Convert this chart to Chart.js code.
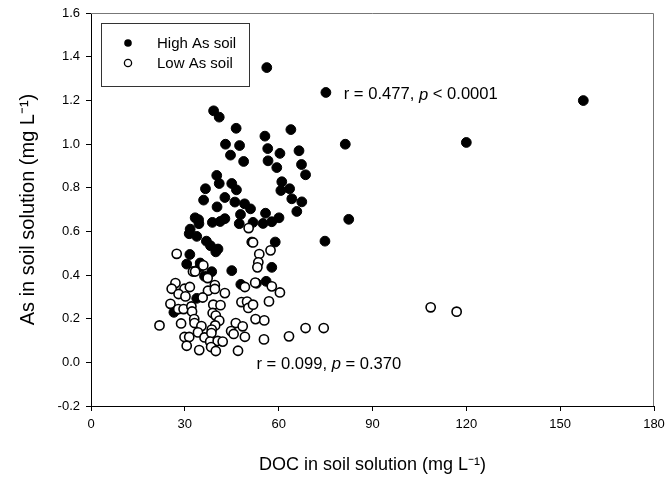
<!DOCTYPE html>
<html>
<head>
<meta charset="utf-8">
<script src="https://cdn.jsdelivr.net/npm/chart.js@4"></script>
<style>
  html, body { margin: 0; padding: 0; background: #fff; }
  #wrap { width: 666px; height: 482px; }
</style>
</head>
<body>
<div id="wrap"><canvas id="scatter"></canvas></div>
<script>
// High As soil (filled circles): DOC (mg/L) and As (mg/L)
const highX = [56.2, 75.1, 157.4, 39.2, 41.0, 46.4, 63.9, 55.6, 43.0, 47.5, 81.3, 120.0, 56.5, 66.5, 60.4,
  44.6, 56.6, 48.8, 59.4, 67.3, 68.6, 40.2, 41.0, 45.0, 61.0, 46.5, 36.6, 60.7, 63.5, 42.8, 64.2, 36.0,
  67.4, 46.0, 49.1, 51.0, 40.3, 55.8, 65.8, 33.3, 34.4, 38.8, 41.3, 42.8, 47.8, 47.4, 51.8, 55.0, 57.8,
  60.1, 82.4, 31.7, 31.4, 34.5, 33.8, 36.9, 38.2, 40.6, 39.9, 51.4, 58.9, 74.8, 31.6, 30.6, 34.9, 34.8,
  38.6, 45.0, 57.8, 47.9, 56.0, 52.9, 33.8, 26.5, 36.3];
const highY = [1.350, 1.236, 1.199, 1.152, 1.123, 1.072, 1.066, 1.036, 0.999, 0.993, 0.999, 1.007, 0.979, 0.969, 0.957,
  0.949, 0.923, 0.920, 0.892, 0.906, 0.859, 0.856, 0.819, 0.819, 0.827, 0.790, 0.795, 0.787, 0.795, 0.755, 0.749, 0.743,
  0.735, 0.734, 0.726, 0.703, 0.712, 0.683, 0.691, 0.662, 0.653, 0.641, 0.645, 0.658, 0.677, 0.635, 0.641, 0.636, 0.644,
  0.662, 0.655, 0.610, 0.589, 0.635, 0.577, 0.555, 0.534, 0.519, 0.506, 0.551, 0.551, 0.555, 0.494, 0.450, 0.455, 0.435,
  0.415, 0.420, 0.435, 0.357, 0.371, 0.362, 0.293, 0.229, 0.394];

// Low As soil (open circles)
const lowX = [50.4, 27.4, 51.8, 53.8, 57.4, 53.5, 53.2, 32.6, 35.9, 33.3, 37.3, 27.0, 25.8, 29.9, 31.6, 28.0,
  30.2, 37.4, 39.6, 39.6, 42.8, 49.2, 52.5, 57.8, 60.4, 56.9, 35.7, 25.4, 27.9, 29.6, 32.1, 32.3, 39.1, 41.4,
  48.1, 49.9, 50.3, 51.8, 38.9, 39.9, 33.0, 41.0, 21.9, 28.8, 33.1, 35.3, 39.7, 38.6, 46.3, 48.5, 52.6, 55.4,
  68.6, 74.4, 108.6, 116.9, 29.9, 31.4, 34.2, 36.3, 38.5, 38.1, 40.5, 42.1, 44.8, 45.6, 49.2, 55.3, 63.3,
  30.6, 34.6, 38.4, 39.9, 47.0];
const lowY = [0.615, 0.497, 0.549, 0.496, 0.513, 0.458, 0.435, 0.416, 0.444, 0.416, 0.386, 0.363, 0.337, 0.337, 0.345, 0.313,
  0.302, 0.328, 0.354, 0.336, 0.317, 0.345, 0.365, 0.348, 0.320, 0.279, 0.297, 0.268, 0.244, 0.244, 0.256, 0.233, 0.264, 0.262,
  0.276, 0.278, 0.249, 0.264, 0.226, 0.214, 0.198, 0.191, 0.169, 0.178, 0.180, 0.166, 0.169, 0.150, 0.180, 0.165, 0.198, 0.192,
  0.157, 0.157, 0.252, 0.232, 0.116, 0.116, 0.137, 0.114, 0.134, 0.095, 0.098, 0.095, 0.143, 0.130, 0.117, 0.105, 0.119,
  0.076, 0.056, 0.070, 0.052, 0.053];

const legendLabels = ['High As soil', 'Low As soil'];
const statHigh = ['r = 0.477, ', 'p', ' < 0.0001'];
const statLow = ['r = 0.099, ', 'p', ' = 0.370'];

const FONT = '"Liberation Sans", Arial, sans-serif';

function toPoints(xs, ys) {
  return xs.map((x, i) => ({ x: x, y: ys[i] }));
}

// draw "r = ..., p ..." with italic p
function drawStat(ctx, x, y, parts) {
  ctx.textBaseline = 'middle';
  ctx.textAlign = 'left';
  parts.forEach((t, i) => {
    ctx.font = (i === 1 ? 'italic ' : '') + '16.6px ' + FONT;
    ctx.fillText(t, x, y);
    x += ctx.measureText(t).width;
  });
}

const extras = {
  id: 'extras',
  afterDraw(chart) {
    const { ctx, chartArea: a, scales } = chart;
    ctx.save();
    // top and right frame
    ctx.strokeStyle = '#777';
    ctx.lineWidth = 1;
    ctx.beginPath();
    ctx.moveTo(a.left, a.top + 0.5);
    ctx.lineTo(a.right - 0.5, a.top + 0.5);
    ctx.lineTo(a.right - 0.5, a.bottom);
    ctx.stroke();

    // legend box
    const lx = a.left + 10, ly = a.top + 10;
    ctx.strokeStyle = '#333';
    ctx.strokeRect(lx + 0.5, ly + 0.5, 148, 63);
    ctx.fillStyle = '#000';
    ctx.beginPath();
    ctx.arc(lx + 27, ly + 20, 3.8, 0, Math.PI * 2);
    ctx.fill();
    ctx.strokeStyle = '#000';
    ctx.lineWidth = 1.3;
    ctx.beginPath();
    ctx.arc(lx + 27, ly + 40, 3.6, 0, Math.PI * 2);
    ctx.stroke();
    ctx.font = '15px ' + FONT;
    ctx.textBaseline = 'middle';
    ctx.fillText(legendLabels[0], lx + 56, ly + 21);
    ctx.fillText(legendLabels[1], lx + 56, ly + 41);

    // correlation notes
    drawStat(ctx, scales.x.getPixelForValue(80.8), scales.y.getPixelForValue(1.225), statHigh);
    drawStat(ctx, scales.x.getPixelForValue(52.9), scales.y.getPixelForValue(-0.01), statLow);
    ctx.restore();
  }
};

new Chart(document.getElementById('scatter'), {
  type: 'scatter',
  data: {
    datasets: [
      {
        label: legendLabels[0],
        data: toPoints(highX, highY),
        backgroundColor: '#000',
        borderColor: '#000',
        borderWidth: 1,
        pointRadius: 4.9,
        order: 1
      },
      {
        label: legendLabels[1],
        data: toPoints(lowX, lowY),
        backgroundColor: '#fff',
        borderColor: '#000',
        borderWidth: 1.6,
        pointRadius: 4.6,
        order: 0
      }
    ]
  },
  options: {
    responsive: true,
    maintainAspectRatio: false,
    animation: false,
    layout: { padding: { left: 0, right: 12, top: 13, bottom: 0 } },
    plugins: {
      legend: { display: false },
      tooltip: { enabled: false }
    },
    scales: {
      x: {
        type: 'linear',
        min: 0,
        max: 180,
        afterFit(scale) {
          scale.height = 76;
          scale.paddingLeft = 0;
          scale.paddingRight = 0;
        },
        ticks: { stepSize: 30, color: '#000', padding: 6, font: { family: FONT, size: 13 } },
        grid: { display: true, drawOnChartArea: false, drawTicks: true, tickLength: 5, color: '#000' },
        border: { display: true, color: '#000', width: 1 },
        title: {
          display: true,
          text: 'DOC in soil solution (mg L\u207B\u00B9)',
          color: '#000',
          font: { family: FONT, size: 18 },
          padding: { top: 0, bottom: 6 }
        }
      },
      y: {
        type: 'linear',
        min: -0.2,
        max: 1.6,
        afterFit(scale) {
          scale.width = 91;
          scale.paddingTop = 0;
          scale.paddingBottom = 0;
        },
        ticks: {
          stepSize: 0.2,
          color: '#000',
          padding: 6,
          font: { family: FONT, size: 13 },
          callback: v => v.toFixed(1)
        },
        grid: { display: true, drawOnChartArea: false, drawTicks: true, tickLength: 5, color: '#000' },
        border: { display: true, color: '#000', width: 1 },
        title: {
          display: true,
          text: 'As in soil solution (mg L\u207B\u00B9)',
          color: '#000',
          font: { family: FONT, size: 20 },
          padding: { top: 16, bottom: 0 }
        }
      }
    }
  },
  plugins: [extras]
});
</script>
</body>
</html>
